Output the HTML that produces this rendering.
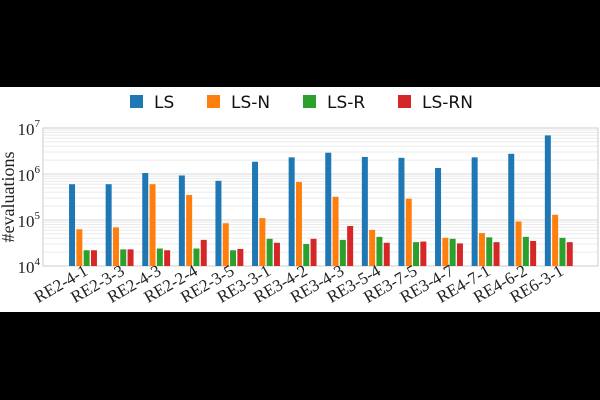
<!DOCTYPE html>
<html><head><meta charset="utf-8"><style>
body{margin:0;background:#000;}
#wrap{position:relative;width:600px;height:400px;background:#000;overflow:hidden}
svg{position:absolute;left:0;top:0}
</style></head><body>
<div id="wrap">
<svg id="chart" width="600" height="400"></svg>
</div>
<script>
const categories=["RE2-4-1","RE2-3-3","RE2-4-3","RE2-2-4","RE2-3-5","RE3-3-1","RE3-4-2","RE3-4-3","RE3-5-4","RE3-7-5","RE3-4-7","RE4-7-1","RE4-6-2","RE6-3-1"];
const seriesNames=["LS","LS-N","LS-R","LS-RN"];
const valuesLS=[6.0e5,6.0e5,1.05e6,9.3e5,7.1e5,1.85e6,2.3e6,2.9e6,2.35e6,2.25e6,1.35e6,2.3e6,2.75e6,6.9e6];
const valuesLSN=[6.3e4,6.9e4,6.0e5,3.5e5,8.5e4,1.1e5,6.7e5,3.2e5,6.1e4,2.9e5,4.1e4,5.2e4,9.3e4,1.3e5];
const valuesLSR=[2.2e4,2.3e4,2.4e4,2.4e4,2.2e4,3.9e4,3.0e4,3.7e4,4.3e4,3.3e4,3.9e4,4.2e4,4.3e4,4.1e4];
const valuesLSRN=[2.2e4,2.3e4,2.2e4,3.7e4,2.35e4,3.2e4,3.9e4,7.4e4,3.2e4,3.4e4,3.1e4,3.3e4,3.5e4,3.3e4];
const yTicks=[4,5,6,7];
const colors=["#1f77b4","#ff7f0e","#2ca02c","#d62728"];
const NS="http://www.w3.org/2000/svg";
const svg=document.getElementById('chart');
function mk(t,a,p){const e=document.createElementNS(NS,t);for(const k in a)e.setAttribute(k,a[k]);(p||svg).appendChild(e);return e;}
const L=43,R=598,T=128,B=266;
function y(v){return B-(Math.log10(v)-4)/3*(B-T);}
function xc(i){return 83+36.6*i;}
const bg=mk('rect',{x:0,y:87,width:600,height:225,fill:'#fff'});

// grid
for(let d=4;d<7;d++){for(let m=2;m<10;m++){const yy=y(m*Math.pow(10,d));const g=mk('line',{x1:L,x2:R,y1:yy,y2:yy,stroke:'#ebebeb','stroke-width':1});}}
yTicks.forEach(t=>{const yy=y(Math.pow(10,t));const g=mk('line',{x1:L,x2:R,y1:yy,y2:yy,stroke:'#d8d8d8','stroke-width':1});
const tx=mk('text',{x:40,y:yy+7,'text-anchor':'end','font-family':'Liberation Serif, serif','font-size':17,fill:'#222'});tx.textContent='10';const s=mk('tspan',{dy:-8,'font-size':11},tx);s.textContent=t;});
const fr=mk('rect',{x:L,y:T,width:R-L,height:B-T,fill:'none',stroke:'#cccccc','stroke-width':1});

const all=[valuesLS,valuesLSN,valuesLSR,valuesLSRN];
categories.forEach((c,i)=>{
 all.forEach((arr,s)=>{const x=xc(i)+(s-1.5)*7.3-3;const yy=y(arr[i]);
  const b=mk('rect',{x:x,y:yy,width:6,height:B-yy,fill:colors[s]});
  });
 const lx=xc(i)+6,ly=274;
 const t=mk('text',{x:lx,y:ly,'text-anchor':'end','font-family':'Liberation Serif, serif','font-size':17,fill:'#222',transform:`rotate(-30 ${lx} ${ly})`});
 t.textContent=c;
});
const yl=mk('text',{x:14,y:197,'text-anchor':'middle','font-family':'Liberation Serif, serif','font-size':18,fill:'#222',transform:'rotate(-90 14 197)'});
yl.textContent='#evaluations';
const legX=[130,207,303,398];
seriesNames.forEach((n,s)=>{
 const g=mk('g',{});
 mk('rect',{x:legX[s],y:95,width:13,height:13,fill:colors[s]},g);
 const t=mk('text',{x:legX[s]+24,y:108,'font-family':'DejaVu Sans, sans-serif','font-size':17,fill:'#111'},g);t.textContent=n;
});
</script>
</body></html>
